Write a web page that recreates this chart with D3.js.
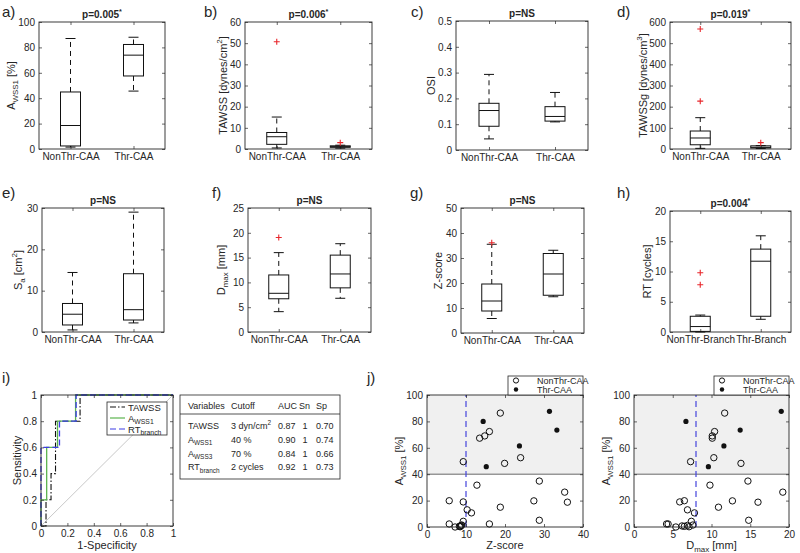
<!DOCTYPE html>
<html><head><meta charset="utf-8">
<script src="https://cdn.jsdelivr.net/npm/d3@7"></script>
<style>
body{margin:0;background:#fff}
text{font-family:"Liberation Sans",Arial,Helvetica,sans-serif;fill:#262626}
</style>
</head><body>
<svg id="c" width="800" height="553"></svg>
<script>
// ---------------- DATA ----------------
const groupsCAA = ["NonThr-CAA", "Thr-CAA"];
const groupsBranch = ["NonThr-Branch", "Thr-Branch"];
// box stats per group: [lower whisker, q1, median, q3, upper whisker]
const awss1Stats = [[1.5, 2.4, 18.5, 44.9, 87], [45.6, 57.5, 73.9, 82.3, 88]];
const awss1Out = [[], []];
const awss1Ticks = [0, 20, 40, 60, 80, 100];
const tawssStats = [[0.5, 2.2, 5.8, 7.8, 15.1], [0.4, 0.8, 1.1, 1.5, 1.8]];
const tawssOut = [[50.7], [3.0]];
const tawssTicks = [0, 10, 20, 30, 40, 50, 60];
const osiStats = [[0.043, 0.092, 0.153, 0.181, 0.293], [0.109, 0.112, 0.130, 0.168, 0.223]];
const osiOut = [[], []];
const osiTicks = [0, 0.1, 0.2, 0.3, 0.4, 0.5];
const tawssgStats = [[3, 20, 52, 85, 148], [2, 5, 8, 15, 16]];
const tawssgOut = [[567, 226], [30]];
const tawssgTicks = [0, 100, 200, 300, 400, 500, 600];
const saStats = [[0.5, 1.7, 4.3, 6.9, 14.4], [2.2, 2.9, 5.4, 14.1, 29]];
const saOut = [[], []];
const saTicks = [0, 10, 20, 30];
const dmaxStats = [[4.1, 6.7, 7.8, 11.5, 16], [6.8, 8.9, 11.7, 15.5, 17.8]];
const dmaxOut = [[19.05], []];
const dmaxTicks = [0, 5, 10, 15, 20, 25];
const zStats = [[5.8, 8.8, 12.8, 19.6, 35.5], [14.5, 15.1, 23.6, 31.8, 33.1]];
const zOut = [[36.1], []];
const zTicks = [0, 10, 20, 30, 40, 50];
const rtStats = [[0, 0.1, 0.9, 2.6, 2.8], [2.1, 2.6, 11.7, 13.7, 15.9]];
const rtOut = [[9.8, 7.8], []];
const rtTicks = [0, 5, 10, 15, 20];

// ROC curves [1-specificity, sensitivity]
const rocTAWSS = [[0,0],[0.038,0],[0.038,0.2],[0.076,0.2],[0.076,0.4],[0.11,0.4],[0.11,0.8],[0.296,0.8],[0.296,1],[1,1]];
const rocAWSS1 = [[0,0],[0,0.2],[0.043,0.2],[0.043,0.6],[0.125,0.6],[0.125,0.8],[0.262,0.8],[0.262,1],[1,1]];
const rocRT = [[0,0],[0,0.6],[0.14,0.6],[0.14,0.8],[0.266,0.8],[0.266,1],[1,1]];
const rocTicks = [0, 0.2, 0.4, 0.6, 0.8, 1];

// table
const tableHeader = ["Variables", "Cutoff", "AUC", "Sn", "Sp"];
const tableVariables = [["TAWSS"], ["A", {t:"WSS1", sub:true}], ["A", {t:"WSS3", sub:true}], ["RT", {t:"branch", sub:true}]];
const tableCutoff = [["3 dyn/cm", {t:"2", sup:true}], ["40 %"], ["70 %"], ["2 cycles"]];
const tableAUC = ["0.87", "0.90", "0.84", "0.92"];
const tableSn = ["1", "1", "1", "1"];
const tableSp = ["0.70", "0.74", "0.66", "0.73"];

// scatter (j)
const nonThrA = [86.3,72.3,69.0,67.3,52.5,49.5,48.2,34.8,31.7,26.4,19.8,19.9,19.0,18.8,15.0,13.0,10.7,5.1,4.3,2.3,2.3,1.5,0.8,0.5,0.0,0.2,1.2];
const nonThrZ = [18.8,16.0,14.8,13.5,24.0,9.3,19.9,28.8,12.8,35.3,27.4,5.7,9.3,36.0,18.8,10.3,11.4,28.8,9.3,16.0,5.7,8.9,8.6,8.3,7.2,8.5,8.8];
const nonThrD = [11.7,10.4,10.1,10.1,10.3,7.3,13.8,14.7,9.8,19.2,12.7,6.5,5.9,16.0,10.9,6.9,7.8,14.8,7.4,4.2,4.4,7.6,6.2,6.5,5.4,7.1,6.9];
const thrA = [80.0, 45.7, 61.4, 87.6, 73.4];
const thrZ = [14.4, 15.2, 23.7, 31.4, 33.3];
const thrD = [6.7, 9.6, 11.6, 19.0, 13.7];
const zCut = 10, dCut = 8, aCut = 40;
const scatterYTicks = [0, 20, 40, 60, 80, 100];
const zScatterTicks = [0, 10, 20, 30, 40];
const dScatterTicks = [0, 5, 10, 15, 20];

// ---------------- DRAWING ----------------
const svg = d3.select("#c");
const INK = "#262626";
const FONT = 10;

function rich(sel, parts, fs) {
  let shift = 0;
  parts.forEach(p => {
    let t, s = 0, f = fs;
    if (typeof p === "string") t = p;
    else { t = p.t; if (p.sub) { s = fs * 0.3; f = fs * 0.72; } if (p.sup) { s = -fs * 0.42; f = fs * 0.72; } }
    sel.append("tspan").attr("dy", s - shift).attr("font-size", f).text(t);
    shift = s;
  });
  return sel;
}

function frameAxes(g, x, y, xTicks, yTicks, xFmt, yFmt) {
  const [x0, x1] = x.range(), [y1, y0] = y.range();
  const styleAxis = a => { a.select(".domain").remove(); a.selectAll("line").attr("stroke", INK).attr("stroke-width", 0.7); a.selectAll("text").attr("font-size", FONT).attr("fill", INK).style("font-family", '"Liberation Sans",Arial,sans-serif'); };
  g.append("g").attr("transform", `translate(0,${y1})`).call(d3.axisBottom(x).tickValues(xTicks).tickSize(-3).tickPadding(3.5).tickFormat(xFmt)).call(styleAxis);
  g.append("g").attr("transform", `translate(0,${y0})`).call(d3.axisTop(x).tickValues(xTicks).tickSize(-3).tickFormat("")).call(styleAxis);
  g.append("g").attr("transform", `translate(${x0},0)`).call(d3.axisLeft(y).tickValues(yTicks).tickSize(-3).tickPadding(4).tickFormat(yFmt)).call(styleAxis);
  g.append("g").attr("transform", `translate(${x1},0)`).call(d3.axisRight(y).tickValues(yTicks).tickSize(-3).tickFormat("")).call(styleAxis);
  g.append("rect").attr("x", x0).attr("y", y0).attr("width", x1 - x0).attr("height", y1 - y0)
    .attr("fill", "none").attr("stroke", INK).attr("stroke-width", 0.9);
}

function yLabel(parts, cx, cy, fs) {
  const t = svg.append("text").attr("transform", `translate(${cx + fs * 0.36},${cy}) rotate(-90)`).attr("text-anchor", "middle").attr("font-size", fs);
  rich(t, parts, fs);
}

function tag(txt, x, y) {
  svg.append("text").attr("x", x).attr("y", y).attr("font-size", 15).attr("fill", "#111").text(txt);
}

function boxPanel(c) {
  const g = svg.append("g");
  const x = d3.scaleLinear().domain([0.5, 2.5]).range([c.x0, c.x1]);
  const y = d3.scaleLinear().domain([0, c.ymax]).range([c.y1, c.y0]);
  const fmt = c.fmt || (d => d);
  frameAxes(g, x, y, [1, 2], c.ticks, (d) => c.cats[d - 1], fmt);
  const bw = 10, cw = 5;
  c.stats.forEach((s, i) => {
    const cx = x(i + 1);
    const [lw, q1, md, q3, uw] = s;
    const bg = g.append("g").attr("stroke", "#111").attr("fill", "none");
    bg.append("line").attr("x1", cx).attr("x2", cx).attr("y1", y(q3)).attr("y2", y(uw)).attr("stroke-dasharray", "5,4").attr("stroke-width", 1);
    bg.append("line").attr("x1", cx).attr("x2", cx).attr("y1", y(q1)).attr("y2", y(lw)).attr("stroke-dasharray", "5,4").attr("stroke-width", 1);
    bg.append("line").attr("x1", cx - cw).attr("x2", cx + cw).attr("y1", y(uw)).attr("y2", y(uw)).attr("stroke-width", 1);
    bg.append("line").attr("x1", cx - cw).attr("x2", cx + cw).attr("y1", y(lw)).attr("y2", y(lw)).attr("stroke-width", 1);
    bg.append("rect").attr("x", cx - bw).attr("width", 2 * bw).attr("y", y(q3)).attr("height", Math.max(0.5, y(q1) - y(q3))).attr("stroke-width", 1);
    bg.append("line").attr("x1", cx - bw).attr("x2", cx + bw).attr("y1", y(md)).attr("y2", y(md)).attr("stroke-width", 1);
    c.out[i].forEach(o => {
      const oy = y(o);
      g.append("path").attr("d", `M${cx - 3},${oy}H${cx + 3}M${cx},${oy - 3}V${oy + 3}`).attr("stroke", "#e8262b").attr("stroke-width", 1.1);
    });
  });
  const tt = svg.append("text").attr("x", (c.x0 + c.x1) / 2).attr("y", c.y0 - 4).attr("text-anchor", "middle").attr("font-size", 10).attr("font-weight", "bold").attr("fill", "#111");
  rich(tt, c.title, 10);
  yLabel(c.ylab, c.ylabX, (c.y0 + c.y1) / 2, 11);
  tag(c.tag, c.tagX, c.tagY);
}

const star = {t: "*", sup: true};
const panels = [
  {tag: "a)", tagX: 2, tagY: 17, x0: 39, x1: 165, y0: 22, y1: 149, ymax: 100, ticks: awss1Ticks, cats: groupsCAA, stats: awss1Stats, out: awss1Out, ylabX: 11, ylab: ["A", {t: "WSS1", sub: true}, " [%]"], title: ["p=0.005", star]},
  {tag: "b)", tagX: 204, tagY: 17, x0: 245, x1: 372, y0: 22, y1: 149, ymax: 60, ticks: tawssTicks, cats: groupsCAA, stats: tawssStats, out: tawssOut, ylabX: 223, ylab: ["TAWSS [dynes/cm", {t: "2", sup: true}, "]"], title: ["p=0.006", star]},
  {tag: "c)", tagX: 411, tagY: 17, x0: 456, x1: 588, y0: 21, y1: 150, ymax: 0.5, ticks: osiTicks, cats: groupsCAA, stats: osiStats, out: osiOut, ylabX: 431, ylab: ["OSI"], title: ["p=NS"], fmt: d => d === 0 ? "0" : d3.format(".1f")(d)},
  {tag: "d)", tagX: 617, tagY: 17, x0: 670, x1: 791, y0: 22, y1: 149, ymax: 600, ticks: tawssgTicks, cats: groupsCAA, stats: tawssgStats, out: tawssgOut, ylabX: 643, ylab: ["TAWSSg [dynes/cm", {t: "3", sup: true}, "]"], title: ["p=0.019", star]},
  {tag: "e)", tagX: 2, tagY: 198, x0: 42, x1: 164, y0: 208, y1: 332, ymax: 30, ticks: saTicks, cats: groupsCAA, stats: saStats, out: saOut, ylabX: 18, ylab: ["S", {t: "a", sub: true}, " [cm", {t: "2", sup: true}, "]"], title: ["p=NS"]},
  {tag: "f)", tagX: 212, tagY: 198, x0: 248, x1: 371, y0: 208, y1: 332, ymax: 25, ticks: dmaxTicks, cats: groupsCAA, stats: dmaxStats, out: dmaxOut, ylabX: 221, ylab: ["D", {t: "max", sub: true}, " [mm]"], title: ["p=NS"]},
  {tag: "g)", tagX: 410, tagY: 198, x0: 461, x1: 584, y0: 208, y1: 333, ymax: 50, ticks: zTicks, cats: groupsCAA, stats: zStats, out: zOut, ylabX: 438, ylab: ["Z-score"], title: ["p=NS"]},
  {tag: "h)", tagX: 617, tagY: 198, x0: 670, x1: 791, y0: 211, y1: 332, ymax: 20, ticks: rtTicks, cats: groupsBranch, stats: rtStats, out: rtOut, ylabX: 647, ylab: ["RT [cycles]"], title: ["p=0.004", star]}
];
panels.forEach(boxPanel);

// ---------- panel i : ROC ----------
(function () {
  const g = svg.append("g");
  const x = d3.scaleLinear().domain([0, 1]).range([41, 173]);
  const y = d3.scaleLinear().domain([0, 1]).range([526, 395]);
  const fmt = d => d === 0 ? "0" : d === 1 ? "1" : d3.format(".1f")(d);
  g.append("line").attr("x1", x(0)).attr("y1", y(0)).attr("x2", x(1)).attr("y2", y(1)).attr("stroke", "#c8c8c8").attr("stroke-width", 1);
  const line = d3.line().x(d => x(d[0])).y(d => y(d[1]));
  g.append("path").attr("d", line(rocTAWSS)).attr("fill", "none").attr("stroke", "#111").attr("stroke-width", 1.1).attr("stroke-dasharray", "6,2,1.5,2");
  g.append("path").attr("d", line(rocAWSS1)).attr("fill", "none").attr("stroke", "#5cb44f").attr("stroke-width", 1.3);
  g.append("path").attr("d", line(rocRT)).attr("fill", "none").attr("stroke", "#3c3ce6").attr("stroke-width", 1.3).attr("stroke-dasharray", "6,3");
  frameAxes(g, x, y, rocTicks, rocTicks, fmt, fmt);
  const lg = svg.append("g");
  lg.append("rect").attr("x", 107).attr("y", 402).attr("width", 60).attr("height", 33).attr("fill", "#fff").attr("stroke", INK).attr("stroke-width", 0.8);
  const rows = [
    {lab: ["TAWSS"], stroke: "#111", dash: "6,2,1.5,2", yy: 407},
    {lab: ["A", {t: "WSS1", sub: true}], stroke: "#5cb44f", dash: null, yy: 418},
    {lab: ["RT", {t: "branch", sub: true}], stroke: "#3c3ce6", dash: "6,3", yy: 429}
  ];
  rows.forEach(r => {
    lg.append("line").attr("x1", 110).attr("x2", 125).attr("y1", r.yy).attr("y2", r.yy).attr("stroke", r.stroke).attr("stroke-width", 1.2).attr("stroke-dasharray", r.dash);
    const t = lg.append("text").attr("x", 128).attr("y", r.yy + 3.5).attr("font-size", 9.5);
    rich(t, r.lab, 9.5);
  });
  yLabel(["Sensitivity"], 17, (395 + 526) / 2, 11);
  svg.append("text").attr("x", 107).attr("y", 549).attr("text-anchor", "middle").attr("font-size", 11).text("1-Specificity");
  tag("i)", 2, 383);
})();

// ---------- table ----------
(function () {
  const g = svg.append("g");
  g.append("rect").attr("x", 180).attr("y", 395).attr("width", 160).attr("height", 84).attr("fill", "#fff").attr("stroke", INK).attr("stroke-width", 0.8);
  g.append("line").attr("x1", 180).attr("x2", 340).attr("y1", 414).attr("y2", 414).attr("stroke", INK).attr("stroke-width", 0.8);
  const colX = [188, 231, 278, 299, 316];
  const fs = 9;
  tableHeader.forEach((h, i) => g.append("text").attr("x", colX[i]).attr("y", 408.5).attr("font-size", fs).text(h));
  const rowY = [429, 442.5, 456.5, 470];
  rowY.forEach((yy, r) => {
    rich(g.append("text").attr("x", colX[0]).attr("y", yy).attr("font-size", fs), tableVariables[r], fs);
    rich(g.append("text").attr("x", colX[1]).attr("y", yy).attr("font-size", fs), tableCutoff[r], fs);
    g.append("text").attr("x", colX[2]).attr("y", yy).attr("font-size", fs).text(tableAUC[r]);
    g.append("text").attr("x", colX[3] + 6).attr("y", yy).attr("font-size", fs).attr("text-anchor", "middle").text(tableSn[r]);
    g.append("text").attr("x", colX[4]).attr("y", yy).attr("font-size", fs).text(tableSp[r]);
  });
})();

// ---------- panel j ----------
function scatterPanel(o) {
  const g = svg.append("g");
  const x = d3.scaleLinear().domain([0, o.xmax]).range([o.x0, o.x1]);
  const y = d3.scaleLinear().domain([0, 100]).range([527, 395]);
  g.append("rect").attr("x", o.x0).attr("y", y(100)).attr("width", o.x1 - o.x0).attr("height", y(aCut) - y(100)).attr("fill", "#f0f0f0");
  g.append("line").attr("x1", o.x0).attr("x2", o.x1).attr("y1", y(aCut)).attr("y2", y(aCut)).attr("stroke", "#444").attr("stroke-width", 0.8);
  g.append("line").attr("x1", x(o.cut)).attr("x2", x(o.cut)).attr("y1", y(0)).attr("y2", y(100)).attr("stroke", "#4444dd").attr("stroke-width", 1.2).attr("stroke-dasharray", "6,4");
  o.nx.forEach((v, i) => g.append("circle").attr("cx", x(v)).attr("cy", y(nonThrA[i])).attr("r", 3.2).attr("fill", "none").attr("stroke", "#111").attr("stroke-width", 1));
  o.tx.forEach((v, i) => g.append("circle").attr("cx", x(v)).attr("cy", y(thrA[i])).attr("r", 2.6).attr("fill", "#111"));
  frameAxes(g, x, y, o.ticks, scatterYTicks, d => d, d => d);
  const lx = o.x1 - 75;
  g.append("rect").attr("x", lx).attr("y", 376).attr("width", 75).attr("height", 19).attr("fill", "#fff").attr("stroke", INK).attr("stroke-width", 0.8);
  g.append("circle").attr("cx", lx + 8).attr("cy", 380.5).attr("r", 2.6).attr("fill", "none").attr("stroke", "#111");
  g.append("circle").attr("cx", lx + 8).attr("cy", 389.5).attr("r", 2.2).attr("fill", "#111");
  g.append("text").attr("x", lx + 29).attr("y", 383.5).attr("font-size", 9).text("NonThr-CAA");
  g.append("text").attr("x", lx + 29).attr("y", 392.5).attr("font-size", 9).text("Thr-CAA");
  yLabel(["A", {t: "WSS1", sub: true}, " [%]"], o.ylabX, (395 + 527) / 2, 11);
  rich(svg.append("text").attr("x", (o.x0 + o.x1) / 2).attr("y", 549).attr("text-anchor", "middle").attr("font-size", 11), o.xlab, 11);
}
scatterPanel({x0: 427, x1: 583, xmax: 40, ticks: zScatterTicks, nx: nonThrZ, tx: thrZ, cut: zCut, ylabX: 399, xlab: ["Z-score"]});
scatterPanel({x0: 634, x1: 789, xmax: 20, ticks: dScatterTicks, nx: nonThrD, tx: thrD, cut: dCut, ylabX: 606, xlab: ["D", {t: "max", sub: true}, " [mm]"]});
tag("j)", 367, 383);
</script>
</body></html>
